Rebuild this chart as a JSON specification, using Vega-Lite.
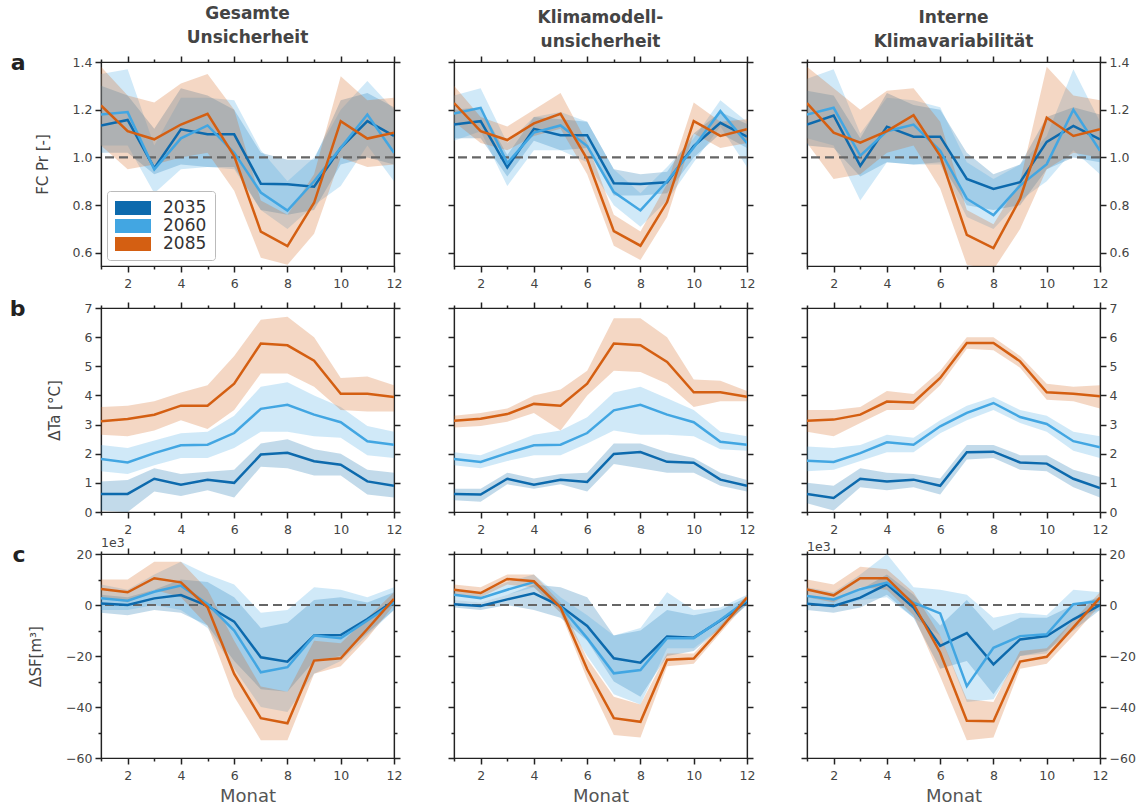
{
"$schema":"https://vega.github.io/schema/vega-lite/v6.json",
"padding":{"left":8,"top":4,"right":5,"bottom":5},
"config":{
 "font":"DejaVu Sans",
 "view":{"stroke":"#222","strokeWidth":1.2},
 "axis":{"grid":false,"domainColor":"#222","domainWidth":1.2,"tickColor":"#222","tickWidth":1.5,"tickSize":6,"labelFont":"DejaVu Sans","labelFontSize":12.5,"labelColor":"#444","labelPadding":3,"titleFont":"DejaVu Sans","titleFontSize":15,"titleFontWeight":"normal","titleColor":"#444"},
 "title":{"fontSize":17,"fontWeight":"bold","color":"#444","font":"DejaVu Sans","offset":0,"lineHeight":24}
},
"datasets":{"d":[
{"p":"a1","s":"2035","m":1,"v":1.134,"lo":1.02,"hi":1.30},{"p":"a1","s":"2035","m":2,"v":1.157,"lo":1.02,"hi":1.26},{"p":"a1","s":"2035","m":3,"v":0.955,"lo":0.93,"hi":1.12},{"p":"a1","s":"2035","m":4,"v":1.118,"lo":0.97,"hi":1.29},{"p":"a1","s":"2035","m":5,"v":1.097,"lo":0.96,"hi":1.26},{"p":"a1","s":"2035","m":6,"v":1.097,"lo":0.96,"hi":1.20},{"p":"a1","s":"2035","m":7,"v":0.89,"lo":0.78,"hi":1.02},{"p":"a1","s":"2035","m":8,"v":0.888,"lo":0.76,"hi":0.99},{"p":"a1","s":"2035","m":9,"v":0.877,"lo":0.78,"hi":0.99},{"p":"a1","s":"2035","m":10,"v":1.04,"lo":0.97,"hi":1.24},{"p":"a1","s":"2035","m":11,"v":1.152,"lo":1.0,"hi":1.27},{"p":"a1","s":"2035","m":12,"v":1.09,"lo":0.97,"hi":1.21},
{"p":"a1","s":"2060","m":1,"v":1.18,"lo":1.05,"hi":1.35},{"p":"a1","s":"2060","m":2,"v":1.19,"lo":1.05,"hi":1.37},{"p":"a1","s":"2060","m":3,"v":0.95,"lo":0.85,"hi":1.05},{"p":"a1","s":"2060","m":4,"v":1.08,"lo":0.95,"hi":1.25},{"p":"a1","s":"2060","m":5,"v":1.134,"lo":0.96,"hi":1.25},{"p":"a1","s":"2060","m":6,"v":1.02,"lo":0.95,"hi":1.24},{"p":"a1","s":"2060","m":7,"v":0.853,"lo":0.78,"hi":1.03},{"p":"a1","s":"2060","m":8,"v":0.777,"lo":0.70,"hi":0.90},{"p":"a1","s":"2060","m":9,"v":0.90,"lo":0.80,"hi":1.0},{"p":"a1","s":"2060","m":10,"v":1.04,"lo":0.88,"hi":1.20},{"p":"a1","s":"2060","m":11,"v":1.18,"lo":1.05,"hi":1.32},{"p":"a1","s":"2060","m":12,"v":1.02,"lo":0.90,"hi":1.20},
{"p":"a1","s":"2085","m":1,"v":1.218,"lo":1.05,"hi":1.38},{"p":"a1","s":"2085","m":2,"v":1.11,"lo":0.95,"hi":1.26},{"p":"a1","s":"2085","m":3,"v":1.076,"lo":0.97,"hi":1.23},{"p":"a1","s":"2085","m":4,"v":1.138,"lo":1.0,"hi":1.31},{"p":"a1","s":"2085","m":5,"v":1.183,"lo":1.02,"hi":1.35},{"p":"a1","s":"2085","m":6,"v":1.006,"lo":0.86,"hi":1.20},{"p":"a1","s":"2085","m":7,"v":0.689,"lo":0.58,"hi":0.82},{"p":"a1","s":"2085","m":8,"v":0.628,"lo":0.55,"hi":0.76},{"p":"a1","s":"2085","m":9,"v":0.81,"lo":0.68,"hi":0.93},{"p":"a1","s":"2085","m":10,"v":1.152,"lo":1.0,"hi":1.34},{"p":"a1","s":"2085","m":11,"v":1.079,"lo":0.96,"hi":1.24},{"p":"a1","s":"2085","m":12,"v":1.104,"lo":0.97,"hi":1.25},
{"p":"a2","s":"2035","m":1,"v":1.138,"lo":1.08,"hi":1.20},{"p":"a2","s":"2035","m":2,"v":1.152,"lo":1.08,"hi":1.21},{"p":"a2","s":"2035","m":3,"v":0.958,"lo":0.92,"hi":1.01},{"p":"a2","s":"2035","m":4,"v":1.12,"lo":1.07,"hi":1.17},{"p":"a2","s":"2035","m":5,"v":1.093,"lo":1.03,"hi":1.16},{"p":"a2","s":"2035","m":6,"v":1.093,"lo":1.04,"hi":1.15},{"p":"a2","s":"2035","m":7,"v":0.892,"lo":0.84,"hi":0.95},{"p":"a2","s":"2035","m":8,"v":0.889,"lo":0.84,"hi":0.93},{"p":"a2","s":"2035","m":9,"v":0.896,"lo":0.85,"hi":0.94},{"p":"a2","s":"2035","m":10,"v":1.048,"lo":1.0,"hi":1.10},{"p":"a2","s":"2035","m":11,"v":1.145,"lo":1.10,"hi":1.19},{"p":"a2","s":"2035","m":12,"v":1.087,"lo":1.04,"hi":1.14},
{"p":"a2","s":"2060","m":1,"v":1.184,"lo":1.07,"hi":1.26},{"p":"a2","s":"2060","m":2,"v":1.208,"lo":1.11,"hi":1.29},{"p":"a2","s":"2060","m":3,"v":0.976,"lo":0.88,"hi":1.06},{"p":"a2","s":"2060","m":4,"v":1.104,"lo":1.03,"hi":1.17},{"p":"a2","s":"2060","m":5,"v":1.134,"lo":1.03,"hi":1.19},{"p":"a2","s":"2060","m":6,"v":1.048,"lo":0.98,"hi":1.15},{"p":"a2","s":"2060","m":7,"v":0.855,"lo":0.80,"hi":0.95},{"p":"a2","s":"2060","m":8,"v":0.778,"lo":0.71,"hi":0.85},{"p":"a2","s":"2060","m":9,"v":0.90,"lo":0.82,"hi":0.96},{"p":"a2","s":"2060","m":10,"v":1.042,"lo":0.98,"hi":1.08},{"p":"a2","s":"2060","m":11,"v":1.194,"lo":1.13,"hi":1.24},{"p":"a2","s":"2060","m":12,"v":1.06,"lo":0.96,"hi":1.15},
{"p":"a2","s":"2085","m":1,"v":1.228,"lo":1.15,"hi":1.30},{"p":"a2","s":"2085","m":2,"v":1.11,"lo":1.06,"hi":1.17},{"p":"a2","s":"2085","m":3,"v":1.073,"lo":1.03,"hi":1.13},{"p":"a2","s":"2085","m":4,"v":1.143,"lo":1.09,"hi":1.20},{"p":"a2","s":"2085","m":5,"v":1.183,"lo":1.12,"hi":1.27},{"p":"a2","s":"2085","m":6,"v":0.993,"lo":0.93,"hi":1.06},{"p":"a2","s":"2085","m":7,"v":0.691,"lo":0.63,"hi":0.76},{"p":"a2","s":"2085","m":8,"v":0.63,"lo":0.57,"hi":0.69},{"p":"a2","s":"2085","m":9,"v":0.813,"lo":0.75,"hi":0.89},{"p":"a2","s":"2085","m":10,"v":1.152,"lo":1.10,"hi":1.23},{"p":"a2","s":"2085","m":11,"v":1.09,"lo":1.04,"hi":1.15},{"p":"a2","s":"2085","m":12,"v":1.118,"lo":1.06,"hi":1.16},
{"p":"a3","s":"2035","m":1,"v":1.138,"lo":1.05,"hi":1.28},{"p":"a3","s":"2035","m":2,"v":1.176,"lo":1.04,"hi":1.26},{"p":"a3","s":"2035","m":3,"v":0.965,"lo":0.92,"hi":1.08},{"p":"a3","s":"2035","m":4,"v":1.129,"lo":0.98,"hi":1.27},{"p":"a3","s":"2035","m":5,"v":1.087,"lo":0.97,"hi":1.22},{"p":"a3","s":"2035","m":6,"v":1.087,"lo":0.98,"hi":1.20},{"p":"a3","s":"2035","m":7,"v":0.91,"lo":0.80,"hi":1.02},{"p":"a3","s":"2035","m":8,"v":0.868,"lo":0.78,"hi":0.93},{"p":"a3","s":"2035","m":9,"v":0.896,"lo":0.80,"hi":0.97},{"p":"a3","s":"2035","m":10,"v":1.065,"lo":0.95,"hi":1.17},{"p":"a3","s":"2035","m":11,"v":1.132,"lo":1.0,"hi":1.21},{"p":"a3","s":"2035","m":12,"v":1.076,"lo":0.98,"hi":1.18},
{"p":"a3","s":"2060","m":1,"v":1.18,"lo":1.08,"hi":1.33},{"p":"a3","s":"2060","m":2,"v":1.208,"lo":1.05,"hi":1.37},{"p":"a3","s":"2060","m":3,"v":1.007,"lo":0.82,"hi":1.10},{"p":"a3","s":"2060","m":4,"v":1.11,"lo":0.98,"hi":1.25},{"p":"a3","s":"2060","m":5,"v":1.138,"lo":0.97,"hi":1.24},{"p":"a3","s":"2060","m":6,"v":1.028,"lo":0.97,"hi":1.21},{"p":"a3","s":"2060","m":7,"v":0.827,"lo":0.75,"hi":0.98},{"p":"a3","s":"2060","m":8,"v":0.758,"lo":0.70,"hi":0.91},{"p":"a3","s":"2060","m":9,"v":0.882,"lo":0.82,"hi":0.97},{"p":"a3","s":"2060","m":10,"v":0.972,"lo":0.90,"hi":1.09},{"p":"a3","s":"2060","m":11,"v":1.20,"lo":1.03,"hi":1.37},{"p":"a3","s":"2060","m":12,"v":1.028,"lo":0.93,"hi":1.15},
{"p":"a3","s":"2085","m":1,"v":1.228,"lo":1.06,"hi":1.38},{"p":"a3","s":"2085","m":2,"v":1.104,"lo":0.91,"hi":1.29},{"p":"a3","s":"2085","m":3,"v":1.062,"lo":0.93,"hi":1.20},{"p":"a3","s":"2085","m":4,"v":1.11,"lo":1.02,"hi":1.28},{"p":"a3","s":"2085","m":5,"v":1.177,"lo":1.05,"hi":1.29},{"p":"a3","s":"2085","m":6,"v":1.007,"lo":0.87,"hi":1.15},{"p":"a3","s":"2085","m":7,"v":0.675,"lo":0.55,"hi":0.78},{"p":"a3","s":"2085","m":8,"v":0.62,"lo":0.53,"hi":0.72},{"p":"a3","s":"2085","m":9,"v":0.827,"lo":0.70,"hi":0.90},{"p":"a3","s":"2085","m":10,"v":1.166,"lo":0.95,"hi":1.38},{"p":"a3","s":"2085","m":11,"v":1.09,"lo":1.02,"hi":1.26},{"p":"a3","s":"2085","m":12,"v":1.118,"lo":1.0,"hi":1.24},
{"p":"b1","s":"2035","m":1,"v":0.62,"lo":0.05,"hi":1.05},{"p":"b1","s":"2035","m":2,"v":0.62,"lo":0.0,"hi":1.1},{"p":"b1","s":"2035","m":3,"v":1.14,"lo":0.7,"hi":1.5},{"p":"b1","s":"2035","m":4,"v":0.94,"lo":0.55,"hi":1.3},{"p":"b1","s":"2035","m":5,"v":1.11,"lo":0.75,"hi":1.38},{"p":"b1","s":"2035","m":6,"v":1.0,"lo":0.5,"hi":1.45},{"p":"b1","s":"2035","m":7,"v":1.97,"lo":1.55,"hi":2.35},{"p":"b1","s":"2035","m":8,"v":2.03,"lo":1.5,"hi":2.5},{"p":"b1","s":"2035","m":9,"v":1.74,"lo":1.25,"hi":2.15},{"p":"b1","s":"2035","m":10,"v":1.62,"lo":1.25,"hi":2.0},{"p":"b1","s":"2035","m":11,"v":1.05,"lo":0.6,"hi":1.45},{"p":"b1","s":"2035","m":12,"v":0.90,"lo":0.5,"hi":1.35},
{"p":"b1","s":"2060","m":1,"v":1.82,"lo":1.4,"hi":2.3},{"p":"b1","s":"2060","m":2,"v":1.70,"lo":1.3,"hi":2.2},{"p":"b1","s":"2060","m":3,"v":2.02,"lo":1.6,"hi":2.45},{"p":"b1","s":"2060","m":4,"v":2.29,"lo":1.85,"hi":2.7},{"p":"b1","s":"2060","m":5,"v":2.31,"lo":1.85,"hi":2.75},{"p":"b1","s":"2060","m":6,"v":2.71,"lo":2.2,"hi":3.3},{"p":"b1","s":"2060","m":7,"v":3.54,"lo":2.75,"hi":4.3},{"p":"b1","s":"2060","m":8,"v":3.68,"lo":2.75,"hi":4.45},{"p":"b1","s":"2060","m":9,"v":3.34,"lo":2.6,"hi":4.0},{"p":"b1","s":"2060","m":10,"v":3.08,"lo":2.55,"hi":3.6},{"p":"b1","s":"2060","m":11,"v":2.43,"lo":1.95,"hi":2.95},{"p":"b1","s":"2060","m":12,"v":2.31,"lo":1.85,"hi":2.75},
{"p":"b1","s":"2085","m":1,"v":3.11,"lo":2.65,"hi":3.6},{"p":"b1","s":"2085","m":2,"v":3.19,"lo":2.6,"hi":3.65},{"p":"b1","s":"2085","m":3,"v":3.34,"lo":2.8,"hi":3.8},{"p":"b1","s":"2085","m":4,"v":3.65,"lo":3.15,"hi":4.1},{"p":"b1","s":"2085","m":5,"v":3.65,"lo":2.85,"hi":4.35},{"p":"b1","s":"2085","m":6,"v":4.40,"lo":3.5,"hi":5.35},{"p":"b1","s":"2085","m":7,"v":5.78,"lo":4.75,"hi":6.6},{"p":"b1","s":"2085","m":8,"v":5.72,"lo":4.75,"hi":6.7},{"p":"b1","s":"2085","m":9,"v":5.19,"lo":4.3,"hi":6.0},{"p":"b1","s":"2085","m":10,"v":4.06,"lo":3.5,"hi":4.6},{"p":"b1","s":"2085","m":11,"v":4.06,"lo":3.45,"hi":4.65},{"p":"b1","s":"2085","m":12,"v":3.95,"lo":3.45,"hi":4.35},
{"p":"b2","s":"2035","m":1,"v":0.62,"lo":0.4,"hi":0.8},{"p":"b2","s":"2035","m":2,"v":0.60,"lo":0.35,"hi":0.8},{"p":"b2","s":"2035","m":3,"v":1.14,"lo":0.95,"hi":1.35},{"p":"b2","s":"2035","m":4,"v":0.94,"lo":0.8,"hi":1.15},{"p":"b2","s":"2035","m":5,"v":1.11,"lo":0.95,"hi":1.3},{"p":"b2","s":"2035","m":6,"v":1.03,"lo":0.7,"hi":1.35},{"p":"b2","s":"2035","m":7,"v":1.99,"lo":1.65,"hi":2.35},{"p":"b2","s":"2035","m":8,"v":2.06,"lo":1.5,"hi":2.35},{"p":"b2","s":"2035","m":9,"v":1.72,"lo":1.35,"hi":2.05},{"p":"b2","s":"2035","m":10,"v":1.69,"lo":1.35,"hi":1.85},{"p":"b2","s":"2035","m":11,"v":1.11,"lo":0.9,"hi":1.35},{"p":"b2","s":"2035","m":12,"v":0.90,"lo":0.7,"hi":1.1},
{"p":"b2","s":"2060","m":1,"v":1.82,"lo":1.6,"hi":2.05},{"p":"b2","s":"2060","m":2,"v":1.72,"lo":1.5,"hi":1.95},{"p":"b2","s":"2060","m":3,"v":2.02,"lo":1.75,"hi":2.3},{"p":"b2","s":"2060","m":4,"v":2.29,"lo":1.95,"hi":2.65},{"p":"b2","s":"2060","m":5,"v":2.31,"lo":1.95,"hi":2.8},{"p":"b2","s":"2060","m":6,"v":2.71,"lo":2.35,"hi":3.25},{"p":"b2","s":"2060","m":7,"v":3.49,"lo":2.8,"hi":4.1},{"p":"b2","s":"2060","m":8,"v":3.68,"lo":2.65,"hi":4.3},{"p":"b2","s":"2060","m":9,"v":3.34,"lo":2.65,"hi":3.9},{"p":"b2","s":"2060","m":10,"v":3.08,"lo":2.6,"hi":3.5},{"p":"b2","s":"2060","m":11,"v":2.41,"lo":2.15,"hi":2.75},{"p":"b2","s":"2060","m":12,"v":2.31,"lo":2.1,"hi":2.6},
{"p":"b2","s":"2085","m":1,"v":3.13,"lo":2.9,"hi":3.3},{"p":"b2","s":"2085","m":2,"v":3.20,"lo":2.95,"hi":3.4},{"p":"b2","s":"2085","m":3,"v":3.36,"lo":3.1,"hi":3.55},{"p":"b2","s":"2085","m":4,"v":3.71,"lo":3.4,"hi":4.0},{"p":"b2","s":"2085","m":5,"v":3.65,"lo":2.8,"hi":4.2},{"p":"b2","s":"2085","m":6,"v":4.40,"lo":4.0,"hi":4.85},{"p":"b2","s":"2085","m":7,"v":5.78,"lo":4.85,"hi":6.65},{"p":"b2","s":"2085","m":8,"v":5.72,"lo":4.8,"hi":6.65},{"p":"b2","s":"2085","m":9,"v":5.15,"lo":4.4,"hi":6.0},{"p":"b2","s":"2085","m":10,"v":4.11,"lo":3.6,"hi":4.55},{"p":"b2","s":"2085","m":11,"v":4.11,"lo":3.8,"hi":4.5},{"p":"b2","s":"2085","m":12,"v":3.95,"lo":3.8,"hi":4.15},
{"p":"b3","s":"2035","m":1,"v":0.62,"lo":0.3,"hi":1.0},{"p":"b3","s":"2035","m":2,"v":0.48,"lo":0.05,"hi":0.9},{"p":"b3","s":"2035","m":3,"v":1.14,"lo":0.85,"hi":1.5},{"p":"b3","s":"2035","m":4,"v":1.05,"lo":0.75,"hi":1.35},{"p":"b3","s":"2035","m":5,"v":1.11,"lo":0.85,"hi":1.3},{"p":"b3","s":"2035","m":6,"v":0.90,"lo":0.6,"hi":1.15},{"p":"b3","s":"2035","m":7,"v":2.05,"lo":1.8,"hi":2.3},{"p":"b3","s":"2035","m":8,"v":2.07,"lo":1.85,"hi":2.3},{"p":"b3","s":"2035","m":9,"v":1.70,"lo":1.45,"hi":1.95},{"p":"b3","s":"2035","m":10,"v":1.66,"lo":1.4,"hi":1.95},{"p":"b3","s":"2035","m":11,"v":1.14,"lo":0.85,"hi":1.45},{"p":"b3","s":"2035","m":12,"v":0.82,"lo":0.5,"hi":1.2},
{"p":"b3","s":"2060","m":1,"v":1.76,"lo":1.4,"hi":2.25},{"p":"b3","s":"2060","m":2,"v":1.72,"lo":1.45,"hi":2.2},{"p":"b3","s":"2060","m":3,"v":2.02,"lo":1.75,"hi":2.3},{"p":"b3","s":"2060","m":4,"v":2.39,"lo":2.05,"hi":2.65},{"p":"b3","s":"2060","m":5,"v":2.31,"lo":2.05,"hi":2.55},{"p":"b3","s":"2060","m":6,"v":2.94,"lo":2.7,"hi":3.15},{"p":"b3","s":"2060","m":7,"v":3.40,"lo":3.15,"hi":3.65},{"p":"b3","s":"2060","m":8,"v":3.74,"lo":3.5,"hi":3.95},{"p":"b3","s":"2060","m":9,"v":3.26,"lo":3.05,"hi":3.5},{"p":"b3","s":"2060","m":10,"v":3.02,"lo":2.75,"hi":3.3},{"p":"b3","s":"2060","m":11,"v":2.43,"lo":2.1,"hi":2.75},{"p":"b3","s":"2060","m":12,"v":2.22,"lo":1.85,"hi":2.6},
{"p":"b3","s":"2085","m":1,"v":3.13,"lo":2.75,"hi":3.5},{"p":"b3","s":"2085","m":2,"v":3.17,"lo":2.6,"hi":3.5},{"p":"b3","s":"2085","m":3,"v":3.34,"lo":3.05,"hi":3.6},{"p":"b3","s":"2085","m":4,"v":3.79,"lo":3.5,"hi":4.15},{"p":"b3","s":"2085","m":5,"v":3.76,"lo":3.5,"hi":4.05},{"p":"b3","s":"2085","m":6,"v":4.60,"lo":4.35,"hi":4.85},{"p":"b3","s":"2085","m":7,"v":5.80,"lo":5.6,"hi":6.0},{"p":"b3","s":"2085","m":8,"v":5.80,"lo":5.55,"hi":6.0},{"p":"b3","s":"2085","m":9,"v":5.17,"lo":4.95,"hi":5.35},{"p":"b3","s":"2085","m":10,"v":4.11,"lo":3.85,"hi":4.4},{"p":"b3","s":"2085","m":11,"v":4.06,"lo":3.8,"hi":4.3},{"p":"b3","s":"2085","m":12,"v":3.97,"lo":3.55,"hi":4.35},
{"p":"c1","s":"2035","m":1,"v":0.6,"lo":-3,"hi":4},{"p":"c1","s":"2035","m":2,"v":0.0,"lo":-4,"hi":3},{"p":"c1","s":"2035","m":3,"v":2.6,"lo":-2,"hi":6},{"p":"c1","s":"2035","m":4,"v":3.9,"lo":-3,"hi":10},{"p":"c1","s":"2035","m":5,"v":-0.3,"lo":-8,"hi":9},{"p":"c1","s":"2035","m":6,"v":-6.5,"lo":-22,"hi":3},{"p":"c1","s":"2035","m":7,"v":-20.5,"lo":-33,"hi":-9},{"p":"c1","s":"2035","m":8,"v":-22.2,"lo":-34,"hi":-7},{"p":"c1","s":"2035","m":9,"v":-12,"lo":-22,"hi":2},{"p":"c1","s":"2035","m":10,"v":-11.8,"lo":-20,"hi":3},{"p":"c1","s":"2035","m":11,"v":-5.5,"lo":-11,"hi":1},{"p":"c1","s":"2035","m":12,"v":1.7,"lo":-2,"hi":5},
{"p":"c1","s":"2060","m":1,"v":2.6,"lo":-2,"hi":8},{"p":"c1","s":"2060","m":2,"v":1.7,"lo":-2,"hi":6},{"p":"c1","s":"2060","m":3,"v":5.2,"lo":0,"hi":12},{"p":"c1","s":"2060","m":4,"v":7.6,"lo":-2,"hi":17},{"p":"c1","s":"2060","m":5,"v":0.4,"lo":-9,"hi":12},{"p":"c1","s":"2060","m":6,"v":-10,"lo":-25,"hi":8},{"p":"c1","s":"2060","m":7,"v":-26.4,"lo":-40,"hi":-3},{"p":"c1","s":"2060","m":8,"v":-24.4,"lo":-42,"hi":-2},{"p":"c1","s":"2060","m":9,"v":-12,"lo":-27,"hi":7},{"p":"c1","s":"2060","m":10,"v":-13,"lo":-22,"hi":6},{"p":"c1","s":"2060","m":11,"v":-6.1,"lo":-12,"hi":3},{"p":"c1","s":"2060","m":12,"v":1.0,"lo":-2,"hi":7},
{"p":"c1","s":"2085","m":1,"v":6.3,"lo":3,"hi":10},{"p":"c1","s":"2085","m":2,"v":5.0,"lo":1,"hi":10},{"p":"c1","s":"2085","m":3,"v":10.5,"lo":6,"hi":17},{"p":"c1","s":"2085","m":4,"v":8.9,"lo":3,"hi":17},{"p":"c1","s":"2085","m":5,"v":-0.9,"lo":-8,"hi":6},{"p":"c1","s":"2085","m":6,"v":-27,"lo":-36,"hi":-14},{"p":"c1","s":"2085","m":7,"v":-44.4,"lo":-53,"hi":-32},{"p":"c1","s":"2085","m":8,"v":-46.4,"lo":-53,"hi":-34},{"p":"c1","s":"2085","m":9,"v":-21.8,"lo":-27,"hi":-14},{"p":"c1","s":"2085","m":10,"v":-20.9,"lo":-24,"hi":-15},{"p":"c1","s":"2085","m":11,"v":-9.4,"lo":-13,"hi":-5},{"p":"c1","s":"2085","m":12,"v":2.4,"lo":0,"hi":5},
{"p":"c2","s":"2035","m":1,"v":0.3,"lo":-1,"hi":2},{"p":"c2","s":"2035","m":2,"v":-0.4,"lo":-2,"hi":1},{"p":"c2","s":"2035","m":3,"v":2.2,"lo":0,"hi":4},{"p":"c2","s":"2035","m":4,"v":4.6,"lo":-2,"hi":8},{"p":"c2","s":"2035","m":5,"v":-0.4,"lo":-5,"hi":7},{"p":"c2","s":"2035","m":6,"v":-8.2,"lo":-14,"hi":3},{"p":"c2","s":"2035","m":7,"v":-20.9,"lo":-30,"hi":-12},{"p":"c2","s":"2035","m":8,"v":-22.6,"lo":-36,"hi":-10},{"p":"c2","s":"2035","m":9,"v":-12.4,"lo":-20,"hi":-2},{"p":"c2","s":"2035","m":10,"v":-12.8,"lo":-18,"hi":-4},{"p":"c2","s":"2035","m":11,"v":-6.1,"lo":-9,"hi":-2},{"p":"c2","s":"2035","m":12,"v":1.3,"lo":0,"hi":3},
{"p":"c2","s":"2060","m":1,"v":4.0,"lo":2,"hi":6},{"p":"c2","s":"2060","m":2,"v":2.7,"lo":1,"hi":5},{"p":"c2","s":"2060","m":3,"v":6.0,"lo":4,"hi":9},{"p":"c2","s":"2060","m":4,"v":9.0,"lo":7,"hi":12},{"p":"c2","s":"2060","m":5,"v":-0.6,"lo":-3,"hi":3},{"p":"c2","s":"2060","m":6,"v":-13,"lo":-20,"hi":-4},{"p":"c2","s":"2060","m":7,"v":-26.8,"lo":-35,"hi":-12},{"p":"c2","s":"2060","m":8,"v":-25.5,"lo":-39,"hi":-9},{"p":"c2","s":"2060","m":9,"v":-13,"lo":-17,"hi":5},{"p":"c2","s":"2060","m":10,"v":-13,"lo":-17,"hi":-2},{"p":"c2","s":"2060","m":11,"v":-5.9,"lo":-9,"hi":-1},{"p":"c2","s":"2060","m":12,"v":1.9,"lo":0,"hi":4},
{"p":"c2","s":"2085","m":1,"v":6.0,"lo":4,"hi":8},{"p":"c2","s":"2085","m":2,"v":4.7,"lo":3,"hi":7},{"p":"c2","s":"2085","m":3,"v":10.2,"lo":8,"hi":12},{"p":"c2","s":"2085","m":4,"v":9.3,"lo":7,"hi":12},{"p":"c2","s":"2085","m":5,"v":-1.0,"lo":-3,"hi":1},{"p":"c2","s":"2085","m":6,"v":-25.2,"lo":-29,"hi":-21},{"p":"c2","s":"2085","m":7,"v":-44.4,"lo":-51,"hi":-36},{"p":"c2","s":"2085","m":8,"v":-45.8,"lo":-52,"hi":-39},{"p":"c2","s":"2085","m":9,"v":-21.5,"lo":-24,"hi":-19},{"p":"c2","s":"2085","m":10,"v":-21.0,"lo":-23,"hi":-19},{"p":"c2","s":"2085","m":11,"v":-9.4,"lo":-11,"hi":-8},{"p":"c2","s":"2085","m":12,"v":2.9,"lo":1,"hi":4},
{"p":"c3","s":"2035","m":1,"v":0.5,"lo":-2,"hi":3},{"p":"c3","s":"2035","m":2,"v":-0.4,"lo":-3,"hi":2},{"p":"c3","s":"2035","m":3,"v":2.9,"lo":-1,"hi":6},{"p":"c3","s":"2035","m":4,"v":8.1,"lo":4,"hi":12},{"p":"c3","s":"2035","m":5,"v":-1.0,"lo":-5,"hi":4},{"p":"c3","s":"2035","m":6,"v":-16,"lo":-25,"hi":-8},{"p":"c3","s":"2035","m":7,"v":-11,"lo":-22,"hi":2},{"p":"c3","s":"2035","m":8,"v":-23.3,"lo":-35,"hi":-10},{"p":"c3","s":"2035","m":9,"v":-13.5,"lo":-20,"hi":-5},{"p":"c3","s":"2035","m":10,"v":-12.2,"lo":-18,"hi":-5},{"p":"c3","s":"2035","m":11,"v":-5.6,"lo":-10,"hi":0},{"p":"c3","s":"2035","m":12,"v":0.0,"lo":-2,"hi":3},
{"p":"c3","s":"2060","m":1,"v":3.5,"lo":0,"hi":7},{"p":"c3","s":"2060","m":2,"v":2.2,"lo":-1,"hi":5},{"p":"c3","s":"2060","m":3,"v":6.2,"lo":2,"hi":12},{"p":"c3","s":"2060","m":4,"v":8.8,"lo":3,"hi":20},{"p":"c3","s":"2060","m":5,"v":0.9,"lo":-5,"hi":7},{"p":"c3","s":"2060","m":6,"v":-3.3,"lo":-12,"hi":6},{"p":"c3","s":"2060","m":7,"v":-31.8,"lo":-38,"hi":4},{"p":"c3","s":"2060","m":8,"v":-16.8,"lo":-37,"hi":-5},{"p":"c3","s":"2060","m":9,"v":-12.2,"lo":-20,"hi":-3},{"p":"c3","s":"2060","m":10,"v":-11.5,"lo":-19,"hi":-4},{"p":"c3","s":"2060","m":11,"v":0.3,"lo":-6,"hi":6},{"p":"c3","s":"2060","m":12,"v":1.6,"lo":-2,"hi":5},
{"p":"c3","s":"2085","m":1,"v":6.1,"lo":3,"hi":10},{"p":"c3","s":"2085","m":2,"v":3.8,"lo":1,"hi":8},{"p":"c3","s":"2085","m":3,"v":10.5,"lo":7,"hi":15},{"p":"c3","s":"2085","m":4,"v":10.5,"lo":6,"hi":14},{"p":"c3","s":"2085","m":5,"v":0.3,"lo":-4,"hi":5},{"p":"c3","s":"2085","m":6,"v":-18.7,"lo":-28,"hi":-12},{"p":"c3","s":"2085","m":7,"v":-45.4,"lo":-53,"hi":-37},{"p":"c3","s":"2085","m":8,"v":-45.6,"lo":-52,"hi":-38},{"p":"c3","s":"2085","m":9,"v":-22.2,"lo":-25,"hi":-18},{"p":"c3","s":"2085","m":10,"v":-20.3,"lo":-23,"hi":-17},{"p":"c3","s":"2085","m":11,"v":-8.8,"lo":-12,"hi":-6},{"p":"c3","s":"2085","m":12,"v":2.9,"lo":0,"hi":5}
]},
"data":{"name":"d"},
"bounds":"flush",
"columns":3,
"spacing":{"row":42,"column":60},
"resolve":{"scale":{"color":"independent"},"legend":{"color":"independent"}},
"concat":[
 {"width":293,"height":204,"title":{"text":["Gesamte","Unsicherheit"]},"transform":[{"filter":"datum.p == 'a1'"}],"resolve":{"axis":{"x":"independent","y":"independent"}},
  "layer":[
  {"mark":{"type":"area","fillOpacity":0.25,"clip":true},"encoding":{
   "x":{"field":"m","type":"quantitative","scale":{"domain":[1,12],"nice":false,"zero":false},"axis":{"orient":"bottom","values":[1,2,3,4,5,6,7,8,9,10,11,12],"labelExpr":"datum.value % 2 == 0 ? datum.label : ''","labelFlush":false,"labelOverlap":false,"labelPadding":5,"title":null,"tickSize":{"condition":{"test":"datum.value % 2 == 0","value":6},"value":3}}},
   "y":{"field":"lo","type":"quantitative","scale":{"domain":[0.545,1.4],"nice":false,"zero":false},"axis":{"orient":"left","values":[0.6,0.8,1.0,1.2,1.4],"format":".1f","labelFlush":false,"labelOverlap":false,"title":"FC Pr [-]","titlePadding":22}},
   "y2":{"field":"hi"},
   "color":{"field":"s","type":"nominal","scale":{"domain":["2035","2060","2085"],"range":["#0d6aad","#42a6e2","#d45f12"]},"legend":{"orient":"bottom-left","title":null,"symbolType":"M-1,-0.78H3V0.78H-1Z","symbolSize":324,"symbolOpacity":1,"symbolStrokeWidth":0,"labelFontSize":17,"labelFont":"DejaVu Sans","labelColor":"#333","strokeColor":"#bbb","fillColor":"white","padding":8,"cornerRadius":3,"rowPadding":1,"labelOffset":30,"offset":6}}}},
  {"mark":{"type":"rule","strokeDash":[9,5],"color":"#666","strokeWidth":2.2},"transform":[{"filter":"datum.m == 1 && datum.s == '2035'"}],"encoding":{"y":{"datum":1,"type":"quantitative","axis":null}}},
  {"mark":{"type":"line","strokeWidth":2.5,"clip":true},"encoding":{"x":{"field":"m","type":"quantitative","axis":null},"y":{"field":"v","type":"quantitative","axis":null},"color":{"field":"s","type":"nominal","legend":null}}},
  {"mark":{"type":"line","opacity":0},"encoding":{"x":{"field":"m","type":"quantitative","axis":{"orient":"top","values":[1,2,3,4,5,6,7,8,9,10,11,12],"labels":false,"title":null,"tickSize":{"condition":{"test":"datum.value % 2 == 0","value":6},"value":3}}},"y":{"field":"v","type":"quantitative","axis":{"orient":"right","values":[0.6,0.8,1.0,1.2,1.4],"labels":false,"title":null}}}},
  {"mark":{"type":"line","opacity":0},"encoding":{"y":{"field":"v","type":"quantitative","axis":{"orient":"left","values":[1.0],"domain":false,"ticks":false,"labels":false,"title":"a","titleAngle":0,"titleAnchor":"end","titleAlign":"right","titleBaseline":"middle","titleFontSize":22,"titleFontWeight":"bold","titleColor":"#222","titlePadding":76}}}}
  ]},
 {"width":293,"height":204,"title":{"text":["Klimamodell-","unsicherheit"]},"transform":[{"filter":"datum.p == 'a2'"}],"resolve":{"axis":{"x":"independent","y":"independent"}},
  "layer":[
  {"mark":{"type":"area","fillOpacity":0.25,"clip":true},"encoding":{
   "x":{"field":"m","type":"quantitative","scale":{"domain":[1,12],"nice":false,"zero":false},"axis":{"orient":"bottom","values":[1,2,3,4,5,6,7,8,9,10,11,12],"labelExpr":"datum.value % 2 == 0 ? datum.label : ''","labelFlush":false,"labelOverlap":false,"labelPadding":5,"title":null,"tickSize":{"condition":{"test":"datum.value % 2 == 0","value":6},"value":3}}},
   "y":{"field":"lo","type":"quantitative","scale":{"domain":[0.545,1.4],"nice":false,"zero":false},"axis":{"orient":"left","values":[0.6,0.8,1.0,1.2,1.4],"labels":false,"title":null}},
   "y2":{"field":"hi"},
   "color":{"field":"s","type":"nominal","scale":{"domain":["2035","2060","2085"],"range":["#0d6aad","#42a6e2","#d45f12"]},"legend":null}}},
  {"mark":{"type":"rule","strokeDash":[9,5],"color":"#666","strokeWidth":2.2},"transform":[{"filter":"datum.m == 1 && datum.s == '2035'"}],"encoding":{"y":{"datum":1,"type":"quantitative","axis":null}}},
  {"mark":{"type":"line","strokeWidth":2.5,"clip":true},"encoding":{"x":{"field":"m","type":"quantitative","axis":null},"y":{"field":"v","type":"quantitative","axis":null},"color":{"field":"s","type":"nominal","legend":null}}},
  {"mark":{"type":"line","opacity":0},"encoding":{"x":{"field":"m","type":"quantitative","axis":{"orient":"top","values":[1,2,3,4,5,6,7,8,9,10,11,12],"labels":false,"title":null,"tickSize":{"condition":{"test":"datum.value % 2 == 0","value":6},"value":3}}},"y":{"field":"v","type":"quantitative","axis":{"orient":"right","values":[0.6,0.8,1.0,1.2,1.4],"labels":false,"title":null}}}}
  ]},
 {"width":293,"height":204,"title":{"text":["Interne","Klimavariabilität"]},"transform":[{"filter":"datum.p == 'a3'"}],"resolve":{"axis":{"x":"independent","y":"independent"}},
  "layer":[
  {"mark":{"type":"area","fillOpacity":0.25,"clip":true},"encoding":{
   "x":{"field":"m","type":"quantitative","scale":{"domain":[1,12],"nice":false,"zero":false},"axis":{"orient":"bottom","values":[1,2,3,4,5,6,7,8,9,10,11,12],"labelExpr":"datum.value % 2 == 0 ? datum.label : ''","labelFlush":false,"labelOverlap":false,"labelPadding":5,"title":null,"tickSize":{"condition":{"test":"datum.value % 2 == 0","value":6},"value":3}}},
   "y":{"field":"lo","type":"quantitative","scale":{"domain":[0.545,1.4],"nice":false,"zero":false},"axis":{"orient":"left","values":[0.6,0.8,1.0,1.2,1.4],"labels":false,"title":null}},
   "y2":{"field":"hi"},
   "color":{"field":"s","type":"nominal","scale":{"domain":["2035","2060","2085"],"range":["#0d6aad","#42a6e2","#d45f12"]},"legend":null}}},
  {"mark":{"type":"rule","strokeDash":[9,5],"color":"#666","strokeWidth":2.2},"transform":[{"filter":"datum.m == 1 && datum.s == '2035'"}],"encoding":{"y":{"datum":1,"type":"quantitative","axis":null}}},
  {"mark":{"type":"line","strokeWidth":2.5,"clip":true},"encoding":{"x":{"field":"m","type":"quantitative","axis":null},"y":{"field":"v","type":"quantitative","axis":null},"color":{"field":"s","type":"nominal","legend":null}}},
  {"mark":{"type":"line","opacity":0},"encoding":{"x":{"field":"m","type":"quantitative","axis":{"orient":"top","values":[1,2,3,4,5,6,7,8,9,10,11,12],"labels":false,"title":null,"tickSize":{"condition":{"test":"datum.value % 2 == 0","value":6},"value":3}}},"y":{"field":"v","type":"quantitative","axis":{"orient":"right","values":[0.6,0.8,1.0,1.2,1.4],"format":".1f","labelFlush":false,"labelOverlap":false,"title":null}}}}
  ]},
 {"width":293,"height":204,"transform":[{"filter":"datum.p == 'b1'"}],"resolve":{"axis":{"x":"independent","y":"independent"}},
  "layer":[
  {"mark":{"type":"area","fillOpacity":0.25,"clip":true},"encoding":{
   "x":{"field":"m","type":"quantitative","scale":{"domain":[1,12],"nice":false,"zero":false},"axis":{"orient":"bottom","values":[1,2,3,4,5,6,7,8,9,10,11,12],"labelExpr":"datum.value % 2 == 0 ? datum.label : ''","labelFlush":false,"labelOverlap":false,"labelPadding":5,"title":null,"tickSize":{"condition":{"test":"datum.value % 2 == 0","value":6},"value":3}}},
   "y":{"field":"lo","type":"quantitative","scale":{"domain":[0,7],"nice":false,"zero":false},"axis":{"orient":"left","values":[0,1,2,3,4,5,6,7],"labelFlush":false,"labelOverlap":false,"title":"ΔTa [°C]","titlePadding":22}},
   "y2":{"field":"hi"},
   "color":{"field":"s","type":"nominal","scale":{"domain":["2035","2060","2085"],"range":["#0d6aad","#42a6e2","#d45f12"]},"legend":null}}},
  {"mark":{"type":"line","strokeWidth":2.5,"clip":true},"encoding":{"x":{"field":"m","type":"quantitative","axis":null},"y":{"field":"v","type":"quantitative","axis":null},"color":{"field":"s","type":"nominal","legend":null}}},
  {"mark":{"type":"line","opacity":0},"encoding":{"x":{"field":"m","type":"quantitative","axis":{"orient":"top","values":[1,2,3,4,5,6,7,8,9,10,11,12],"labels":false,"title":null,"tickSize":{"condition":{"test":"datum.value % 2 == 0","value":6},"value":3}}},"y":{"field":"v","type":"quantitative","axis":{"orient":"right","values":[0,1,2,3,4,5,6,7],"labels":false,"title":null}}}},
  {"mark":{"type":"line","opacity":0},"encoding":{"y":{"field":"v","type":"quantitative","axis":{"orient":"left","values":[1],"domain":false,"ticks":false,"labels":false,"title":"b","titleAngle":0,"titleAnchor":"end","titleAlign":"right","titleBaseline":"middle","titleFontSize":22,"titleFontWeight":"bold","titleColor":"#222","titlePadding":76}}}}
  ]},
 {"width":293,"height":204,"transform":[{"filter":"datum.p == 'b2'"}],"resolve":{"axis":{"x":"independent","y":"independent"}},
  "layer":[
  {"mark":{"type":"area","fillOpacity":0.25,"clip":true},"encoding":{
   "x":{"field":"m","type":"quantitative","scale":{"domain":[1,12],"nice":false,"zero":false},"axis":{"orient":"bottom","values":[1,2,3,4,5,6,7,8,9,10,11,12],"labelExpr":"datum.value % 2 == 0 ? datum.label : ''","labelFlush":false,"labelOverlap":false,"labelPadding":5,"title":null,"tickSize":{"condition":{"test":"datum.value % 2 == 0","value":6},"value":3}}},
   "y":{"field":"lo","type":"quantitative","scale":{"domain":[0,7],"nice":false,"zero":false},"axis":{"orient":"left","values":[0,1,2,3,4,5,6,7],"labels":false,"title":null}},
   "y2":{"field":"hi"},
   "color":{"field":"s","type":"nominal","scale":{"domain":["2035","2060","2085"],"range":["#0d6aad","#42a6e2","#d45f12"]},"legend":null}}},
  {"mark":{"type":"line","strokeWidth":2.5,"clip":true},"encoding":{"x":{"field":"m","type":"quantitative","axis":null},"y":{"field":"v","type":"quantitative","axis":null},"color":{"field":"s","type":"nominal","legend":null}}},
  {"mark":{"type":"line","opacity":0},"encoding":{"x":{"field":"m","type":"quantitative","axis":{"orient":"top","values":[1,2,3,4,5,6,7,8,9,10,11,12],"labels":false,"title":null,"tickSize":{"condition":{"test":"datum.value % 2 == 0","value":6},"value":3}}},"y":{"field":"v","type":"quantitative","axis":{"orient":"right","values":[0,1,2,3,4,5,6,7],"labels":false,"title":null}}}}
  ]},
 {"width":293,"height":204,"transform":[{"filter":"datum.p == 'b3'"}],"resolve":{"axis":{"x":"independent","y":"independent"}},
  "layer":[
  {"mark":{"type":"area","fillOpacity":0.25,"clip":true},"encoding":{
   "x":{"field":"m","type":"quantitative","scale":{"domain":[1,12],"nice":false,"zero":false},"axis":{"orient":"bottom","values":[1,2,3,4,5,6,7,8,9,10,11,12],"labelExpr":"datum.value % 2 == 0 ? datum.label : ''","labelFlush":false,"labelOverlap":false,"labelPadding":5,"title":null,"tickSize":{"condition":{"test":"datum.value % 2 == 0","value":6},"value":3}}},
   "y":{"field":"lo","type":"quantitative","scale":{"domain":[0,7],"nice":false,"zero":false},"axis":{"orient":"left","values":[0,1,2,3,4,5,6,7],"labels":false,"title":null}},
   "y2":{"field":"hi"},
   "color":{"field":"s","type":"nominal","scale":{"domain":["2035","2060","2085"],"range":["#0d6aad","#42a6e2","#d45f12"]},"legend":null}}},
  {"mark":{"type":"line","strokeWidth":2.5,"clip":true},"encoding":{"x":{"field":"m","type":"quantitative","axis":null},"y":{"field":"v","type":"quantitative","axis":null},"color":{"field":"s","type":"nominal","legend":null}}},
  {"mark":{"type":"line","opacity":0},"encoding":{"x":{"field":"m","type":"quantitative","axis":{"orient":"top","values":[1,2,3,4,5,6,7,8,9,10,11,12],"labels":false,"title":null,"tickSize":{"condition":{"test":"datum.value % 2 == 0","value":6},"value":3}}},"y":{"field":"v","type":"quantitative","axis":{"orient":"right","values":[0,1,2,3,4,5,6,7],"labelFlush":false,"labelOverlap":false,"title":null}}}}
  ]},
 {"width":293,"height":204,"title":{"text":"1e3","anchor":"start","frame":"group","fontSize":12.5,"fontWeight":"normal","color":"#444","offset":-6},"transform":[{"filter":"datum.p == 'c1'"}],"resolve":{"axis":{"x":"independent","y":"independent"}},
  "layer":[
  {"mark":{"type":"area","fillOpacity":0.25,"clip":true},"encoding":{
   "x":{"field":"m","type":"quantitative","scale":{"domain":[1,12],"nice":false,"zero":false},"axis":{"orient":"bottom","values":[1,2,3,4,5,6,7,8,9,10,11,12],"labelExpr":"datum.value % 2 == 0 ? datum.label : ''","labelFlush":false,"labelOverlap":false,"labelPadding":5,"title":"Monat","titleFontSize":18,"titleColor":"#555","titlePadding":6,"tickSize":{"condition":{"test":"datum.value % 2 == 0","value":6},"value":3}}},
   "y":{"field":"lo","type":"quantitative","scale":{"domain":[-60,20],"nice":false,"zero":false},"axis":{"orient":"left","values":[-60,-50,-40,-30,-20,-10,0,10,20],"labelExpr":"datum.value % 20 == 0 ? datum.label : ''","labelFlush":false,"labelOverlap":false,"title":"ΔSF[m³]","titlePadding":22,"tickSize":{"condition":{"test":"datum.value % 20 == 0","value":6},"value":3}}},
   "y2":{"field":"hi"},
   "color":{"field":"s","type":"nominal","scale":{"domain":["2035","2060","2085"],"range":["#0d6aad","#42a6e2","#d45f12"]},"legend":null}}},
  {"mark":{"type":"rule","strokeDash":[9,5],"color":"#666","strokeWidth":2.2},"transform":[{"filter":"datum.m == 1 && datum.s == '2035'"}],"encoding":{"y":{"datum":0,"type":"quantitative","axis":null}}},
  {"mark":{"type":"line","strokeWidth":2.5,"clip":true},"encoding":{"x":{"field":"m","type":"quantitative","axis":null},"y":{"field":"v","type":"quantitative","axis":null},"color":{"field":"s","type":"nominal","legend":null}}},
  {"mark":{"type":"line","opacity":0},"encoding":{"x":{"field":"m","type":"quantitative","axis":{"orient":"top","values":[1,2,3,4,5,6,7,8,9,10,11,12],"labels":false,"title":null,"tickSize":{"condition":{"test":"datum.value % 2 == 0","value":6},"value":3}}},"y":{"field":"v","type":"quantitative","axis":{"orient":"right","values":[-60,-50,-40,-30,-20,-10,0,10,20],"labels":false,"title":null,"tickSize":{"condition":{"test":"datum.value % 20 == 0","value":6},"value":3}}}}},
  {"mark":{"type":"line","opacity":0},"encoding":{"y":{"field":"v","type":"quantitative","axis":{"orient":"left","values":[0],"domain":false,"ticks":false,"labels":false,"title":"c","titleAngle":0,"titleAnchor":"end","titleAlign":"right","titleBaseline":"middle","titleFontSize":22,"titleFontWeight":"bold","titleColor":"#222","titlePadding":76}}}}
  ]},
 {"width":293,"height":204,"transform":[{"filter":"datum.p == 'c2'"}],"resolve":{"axis":{"x":"independent","y":"independent"}},
  "layer":[
  {"mark":{"type":"area","fillOpacity":0.25,"clip":true},"encoding":{
   "x":{"field":"m","type":"quantitative","scale":{"domain":[1,12],"nice":false,"zero":false},"axis":{"orient":"bottom","values":[1,2,3,4,5,6,7,8,9,10,11,12],"labelExpr":"datum.value % 2 == 0 ? datum.label : ''","labelFlush":false,"labelOverlap":false,"labelPadding":5,"title":"Monat","titleFontSize":18,"titleColor":"#555","titlePadding":6,"tickSize":{"condition":{"test":"datum.value % 2 == 0","value":6},"value":3}}},
   "y":{"field":"lo","type":"quantitative","scale":{"domain":[-60,20],"nice":false,"zero":false},"axis":{"orient":"left","values":[-60,-50,-40,-30,-20,-10,0,10,20],"labels":false,"title":null,"tickSize":{"condition":{"test":"datum.value % 20 == 0","value":6},"value":3}}},
   "y2":{"field":"hi"},
   "color":{"field":"s","type":"nominal","scale":{"domain":["2035","2060","2085"],"range":["#0d6aad","#42a6e2","#d45f12"]},"legend":null}}},
  {"mark":{"type":"rule","strokeDash":[9,5],"color":"#666","strokeWidth":2.2},"transform":[{"filter":"datum.m == 1 && datum.s == '2035'"}],"encoding":{"y":{"datum":0,"type":"quantitative","axis":null}}},
  {"mark":{"type":"line","strokeWidth":2.5,"clip":true},"encoding":{"x":{"field":"m","type":"quantitative","axis":null},"y":{"field":"v","type":"quantitative","axis":null},"color":{"field":"s","type":"nominal","legend":null}}},
  {"mark":{"type":"line","opacity":0},"encoding":{"x":{"field":"m","type":"quantitative","axis":{"orient":"top","values":[1,2,3,4,5,6,7,8,9,10,11,12],"labels":false,"title":null,"tickSize":{"condition":{"test":"datum.value % 2 == 0","value":6},"value":3}}},"y":{"field":"v","type":"quantitative","axis":{"orient":"right","values":[-60,-50,-40,-30,-20,-10,0,10,20],"labels":false,"title":null,"tickSize":{"condition":{"test":"datum.value % 20 == 0","value":6},"value":3}}}}}
  ]},
 {"width":293,"height":204,"title":{"text":"1e3","anchor":"start","frame":"group","fontSize":12.5,"fontWeight":"normal","color":"#444","offset":-6},"transform":[{"filter":"datum.p == 'c3'"}],"resolve":{"axis":{"x":"independent","y":"independent"}},
  "layer":[
  {"mark":{"type":"area","fillOpacity":0.25,"clip":true},"encoding":{
   "x":{"field":"m","type":"quantitative","scale":{"domain":[1,12],"nice":false,"zero":false},"axis":{"orient":"bottom","values":[1,2,3,4,5,6,7,8,9,10,11,12],"labelExpr":"datum.value % 2 == 0 ? datum.label : ''","labelFlush":false,"labelOverlap":false,"labelPadding":5,"title":"Monat","titleFontSize":18,"titleColor":"#555","titlePadding":6,"tickSize":{"condition":{"test":"datum.value % 2 == 0","value":6},"value":3}}},
   "y":{"field":"lo","type":"quantitative","scale":{"domain":[-60,20],"nice":false,"zero":false},"axis":{"orient":"left","values":[-60,-50,-40,-30,-20,-10,0,10,20],"labels":false,"title":null,"tickSize":{"condition":{"test":"datum.value % 20 == 0","value":6},"value":3}}},
   "y2":{"field":"hi"},
   "color":{"field":"s","type":"nominal","scale":{"domain":["2035","2060","2085"],"range":["#0d6aad","#42a6e2","#d45f12"]},"legend":null}}},
  {"mark":{"type":"rule","strokeDash":[9,5],"color":"#666","strokeWidth":2.2},"transform":[{"filter":"datum.m == 1 && datum.s == '2035'"}],"encoding":{"y":{"datum":0,"type":"quantitative","axis":null}}},
  {"mark":{"type":"line","strokeWidth":2.5,"clip":true},"encoding":{"x":{"field":"m","type":"quantitative","axis":null},"y":{"field":"v","type":"quantitative","axis":null},"color":{"field":"s","type":"nominal","legend":null}}},
  {"mark":{"type":"line","opacity":0},"encoding":{"x":{"field":"m","type":"quantitative","axis":{"orient":"top","values":[1,2,3,4,5,6,7,8,9,10,11,12],"labels":false,"title":null,"tickSize":{"condition":{"test":"datum.value % 2 == 0","value":6},"value":3}}},"y":{"field":"v","type":"quantitative","axis":{"orient":"right","values":[-60,-50,-40,-30,-20,-10,0,10,20],"labelExpr":"datum.value % 20 == 0 ? datum.label : ''","labelFlush":false,"labelOverlap":false,"title":null,"tickSize":{"condition":{"test":"datum.value % 20 == 0","value":6},"value":3}}}}}
  ]}
]
}
